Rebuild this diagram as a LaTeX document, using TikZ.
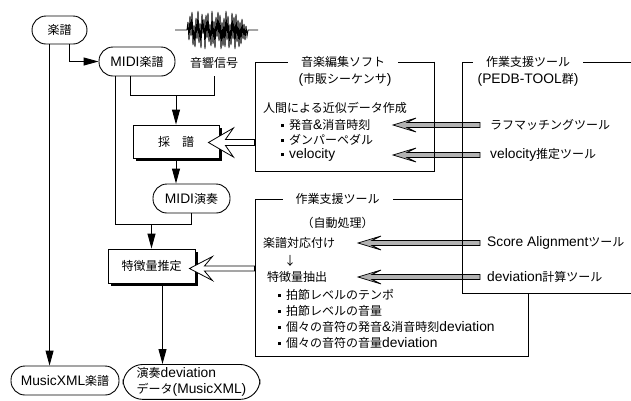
\documentclass[tikz,border=0pt]{standalone}
\usepackage{fontspec}
\setmainfont{Noto Sans CJK JP}
\newfontfamily\lat[Scale=1.15]{Liberation Sans}
\usetikzlibrary{arrows.meta,calc,shadows}
\newcommand\sqb{\raisebox{2.5pt}{\rule{3pt}{3pt}}\hspace{5pt}}
\begin{document}
\begin{tikzpicture}[x=1pt,y=-1pt,font=\fontsize{12}{16}\selectfont,
  ln/.style={line width=0.9pt, draw=black},
  arr/.style={ln, -{Triangle[length=15pt,width=8pt]}},
  rbox/.style={draw=black, line width=0.9pt, rounded corners=14pt, minimum height=29pt, inner xsep=4pt},
  sbox/.style={draw=black, fill=white, line width=0.9pt, drop shadow={shadow xshift=3pt,shadow yshift=-3pt,fill=black,opacity=1}},
  frame/.style={draw=black, line width=0.9pt, inner sep=0pt},
  ttl/.style={fill=white, inner xsep=13pt, inner ysep=1pt},
  txt/.style={anchor=west, inner sep=0pt},
  ctr/.style={inner sep=0pt},
  garrow/.style={fill=gray!60, draw=black, line width=0.7pt, line join=miter},
  warrow/.style={fill=white, draw=black, line width=0.8pt, line join=miter},
  wave/.style={line width=0.9pt, draw=black, line join=miter}]
\useasboundingbox (0,0) rectangle (631,400);

% ---- left flow nodes
\node[rbox, minimum width=55pt, minimum height=28pt] (gakufu) at (59.5,30) {楽譜};
\node[rbox, minimum width=76pt] (midi) at (137,61.5) {{\lat MIDI}楽譜};
\node[rbox, minimum width=77pt] (perf) at (191.5,198.5) {{\lat MIDI}演奏};
\node[rbox, minimum width=108pt] (xml) at (65,380.5) {{\lat MusicXML}楽譜};
\node[draw=black, line width=0.9pt, rounded corners=20pt, anchor=north, minimum width=137pt, align=left, inner ysep=3pt] (dev) at (191.5,364) {演奏{\lat deviation}\\データ{\lat (MusicXML)}};
\node[sbox, minimum width=86pt, minimum height=33pt] (saifu) at (176,141.5) {採　譜};
\node[sbox, minimum width=87pt, minimum height=34pt] (feat) at (151.5,266) {特徴量推定};

% ---- audio signal
\node[inner sep=1pt] (audio) at (214,63) {音響信号};
\draw[wave] plot coordinates {(175,30) (187,30) (188,22) (189,40) (190,16) (191,36) (192,12) (193,45) (194,25) (195,47) (196,18) (197,39) (198,11) (199,43) (200,23) (201,48) (202,14) (203,34) (204,19) (205,49) (206,15) (207,38) (208,13) (209,42) (210,24) (211,46) (212,11) (213,44) (214,21) (215,48) (216,17) (217,37) (218,12) (219,41) (220,15) (221,49) (222,22) (223,46) (224,18) (225,47) (226,11) (227,40) (228,16) (229,48) (230,24) (231,45) (232,13) (233,39) (234,17) (235,49) (236,14) (237,42) (238,20) (239,47) (240,22) (241,44) (242,19) (243,39) (244,24) (245,40) (246,26) (247,36) (248,30) (258,30)};

% ---- connectors
\coordinate (g1) at ($(gakufu.south west)+(18,0)$);
\coordinate (g2) at ($(gakufu.south east)+(-18,0)$);
\draw[arr] (g1) -- (g1 |- xml.north);
\draw[arr] (g2) |- (midi.west);
\coordinate (m1) at ($(midi.south west)+(17,0)$);
\coordinate (m2) at ($(midi.south west)+(32,0)$);
\coordinate (j1) at ($(saifu.north)+(0,-29)$);
\coordinate (j2) at ($(feat.north)+(0,-24)$);
\draw[ln] (m2) |- (j1) -| ([yshift=-6pt]audio.south);
\draw[arr] (j1) -- (saifu.north);
\draw[ln] (m1) |- (j2) -| (perf.south);
\draw[arr] (j2) -- (feat.north);
\draw[arr] (saifu.south) -- (saifu.south |- perf.north);
\coordinate (f1) at ($(feat.south)+(11,0)$);
\draw[arr] (f1) -- (f1 |- dev.north);

% ---- frames
\node[frame, minimum width=179pt, minimum height=109pt] (edit) at (344.5,116.5) {};
\node[frame, minimum width=273pt, minimum height=157pt] (auto) at (391.5,277.5) {};
\fill[white] (462,62) rectangle (640,293);

% ---- texts in edit frame
\node[ctr] (edit2) at (345,80) {{\lat (}市販シーケンサ{\lat )}};
\node[txt] (human) at (263,108) {人間による近似データ作成};
\node[txt] (onset) at (281,125) {\sqb 発音{\lat\&}消音時刻};
\node[txt] (damper) at (281,140) {\sqb ダンパーペダル};
\node[txt] (velo) at (281,155) {\sqb {\lat velocity}};

% ---- texts in PEDB frame
\node[ctr] (pedb2) at (528,80) {{\lat (PEDB-TOOL}群{\lat )}};
\node[txt] (rough) at (490,125) {ラフマッチングツール};
\node[txt] (velest) at (490,155) {{\lat velocity}推定ツール};
\node[txt] (score) at (487,243) {{\lat Score Alignment}ツール};
\node[txt] (devcalc) at (487,277) {{\lat deviation}計算ツール};

% ---- texts in auto frame
\node[ctr] (auto2) at (337.5,223) {（自動処理）};
\node[txt] (align) at (263,243) {楽譜対応付け};
\node[ctr] (down) at (290,261) {↓};
\node[txt] (extract) at (267,277) {特徴量抽出};
\node[txt] (b1) at (278,295) {\sqb 拍節レベルのテンポ};
\node[txt] (b2) at (278,311) {\sqb 拍節レベルの音量};
\node[txt] (b3) at (278,327) {\sqb 個々の音符の発音{\lat\&}消音時刻{\lat deviation}};
\node[txt] (b4) at (278,343) {\sqb 個々の音符の音量{\lat deviation}};

% ---- gray arrows
\coordinate (s1) at ($(rough.west)+(-10,0)$);
\coordinate (s2) at ($(velest.west)+(-10,0)$);
\coordinate (s3) at ($(score.west)+(-7,0)$);
\coordinate (s4) at ($(devcalc.west)+(-7,0)$);
\coordinate (t1) at (393,125);
\coordinate (t2) at (393,155);
\coordinate (t3) at (358,243);
\coordinate (t4) at (358,277);
\foreach \s/\t in {s1/t1,s2/t2,s3/t3,s4/t4}{
  \draw[garrow] (\t) -- ++(23,-7) -- ++(-9,4.5) -- ($(\s)+(0,-2.5)$) -- ($(\s)+(0,2.5)$) -- ($(\t)+(14,2.5)$) -- ++(9,4.5) -- cycle;
}

% ---- white arrows
\coordinate (w1) at ($(saifu.east)+(-11,1)$);
\coordinate (we1) at (edit.west |- w1);
\draw[warrow] (w1) -- ++(25,-14.5) -- ++(-8,11.5) -- ($(we1)+(0,-3)$) -- ($(we1)+(0,3)$) -- ($(w1)+(17,3)$) -- ++(8,11.5) -- cycle;
\coordinate (w2) at ($(feat.east)+(-6,2.5)$);
\coordinate (we2) at (auto.west |- w2);
\draw[warrow] (w2) -- ++(23,-12) -- ++(-8,9.5) -- ($(we2)+(0,-2.5)$) -- ($(we2)+(0,2.5)$) -- ($(w2)+(15,2.5)$) -- ++(8,9.5) -- cycle;

% ---- frame lines on top
\draw[ln] (640,62) -- (462,62) -- (462,293) -- (640,293);
\draw[ln] (edit.north east) -- (edit.south east);
\node[ttl] (edittitle) at (343,62) {音楽編集ソフト};
\node[ttl] (pedbtitle) at (528,62) {作業支援ツール};
\node[ttl] (autotitle) at (337.5,199) {作業支援ツール};
\end{tikzpicture}
\end{document}
